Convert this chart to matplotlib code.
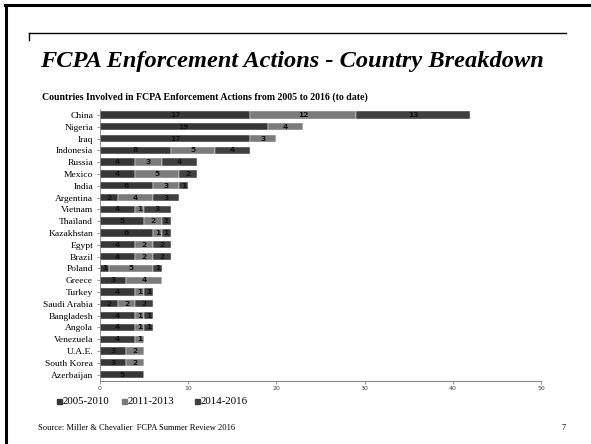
import matplotlib
matplotlib.use("Agg")
import matplotlib.pyplot as plt
import numpy as np
from matplotlib.lines import Line2D
from matplotlib.patches import Rectangle

countries = ["China", "Nigeria", "Iraq", "Indonesia", "Russia", "Mexico", "India",
             "Argentina", "Vietnam", "Thailand", "Kazakhstan", "Egypt", "Brazil",
             "Poland", "Greece", "Turkey", "Saudi Arabia", "Bangladesh", "Angola",
             "Venezuela", "U.A.E.", "South Korea", "Azerbaijan"]
s2005_2010 = [17, 19, 17, 8, 4, 4, 6, 2, 4, 5, 6, 4, 4, 1, 3, 4, 2, 4, 4, 4, 3, 3, 5]
s2011_2013 = [12, 4, 3, 5, 3, 5, 3, 4, 1, 2, 1, 2, 2, 5, 4, 1, 2, 1, 1, 1, 2, 2, 0]
s2014_2016 = [13, 0, 0, 4, 4, 2, 1, 3, 3, 1, 1, 2, 2, 1, 0, 1, 2, 1, 1, 0, 0, 0, 0]
series_names = ["2005-2010", "2011-2013", "2014-2016"]
colors = ["#373737", "#7b7b7b", "#404040"]
xticks = [0, 10, 20, 30, 40, 50]

SERIF = ["Liberation Serif", "DejaVu Serif"]

W, H = 591, 444
fig = plt.figure(figsize=(W / 100, H / 100), dpi=100)

# slide frame: top and left black lines
fig.add_artist(Line2D([5 / W, 1.0], [1 - 5 / H, 1 - 5 / H], color="black", lw=2.2))
fig.add_artist(Line2D([6 / W, 6 / W], [0, 1 - 5 / H], color="black", lw=2.2))
# line above the title
fig.add_artist(Line2D([29 / W, 566 / W], [1 - 33 / H, 1 - 33 / H], color="black", lw=1.0))
fig.add_artist(Line2D([29 / W, 29 / W], [1 - 33 / H, 1 - 40 / H], color="black", lw=1.0))

fig.text(40 / W, 1 - 62 / H, "FCPA Enforcement Actions - Country Breakdown",
         family=SERIF, fontsize=17.6, fontweight="bold", fontstyle="italic",
         va="center", ha="left")
fig.text(42 / W, 1 - 97 / H,
         "Countries Involved in FCPA Enforcement Actions from 2005 to 2016 (to date)",
         family=SERIF, fontsize=7.1, fontweight="bold", va="center", ha="left")

ax = fig.add_axes([100 / W, 1 - 380.5 / H, 441 / W, 271.5 / H])
y = np.arange(len(countries))
left = np.zeros(len(countries))
for vals, c, name in zip([s2005_2010, s2011_2013, s2014_2016], colors, series_names):
    vals = np.array(vals)
    ax.barh(y, vals, left=left, height=0.62, color=c, edgecolor="white",
            linewidth=0.3, label=name)
    for yi, l, v in zip(y, left, vals):
        if v > 0:
            ax.text(l + v / 2, yi, str(v), ha="center", va="center",
                    fontsize=5.4, fontweight="bold", color="#111111",
                    family="DejaVu Sans")
    left = left + vals

ax.set_xlim(0, 50)
ax.set_ylim(len(countries) - 0.5, -0.5)
ax.set_yticks(y)
ax.set_yticklabels(countries, family=SERIF, fontsize=6.8)
ax.set_xticks(xticks)
ax.set_xticklabels([str(t) for t in xticks], family="DejaVu Sans", fontsize=4.5,
                   color="#444444")
ax.tick_params(axis="y", length=2, width=0.6, color="#888888", pad=3)
ax.tick_params(axis="x", length=2, width=0.6, color="#888888", pad=2)
for side in ["top", "right"]:
    ax.spines[side].set_visible(False)
ax.spines["left"].set_color("#888888")
ax.spines["bottom"].set_color("#888888")
ax.spines["left"].set_linewidth(0.6)
ax.spines["bottom"].set_linewidth(0.8)

# legend
leg_x = [57, 122, 195]
for lx, c, name in zip(leg_x, colors, series_names):
    fig.add_artist(Rectangle((lx / W, 1 - 404 / H), 5 / W, 5 / H, color=c))
    fig.text((lx + 6) / W, 1 - 401.5 / H, name, family=SERIF, fontsize=7.8,
             va="center", ha="left")

fig.text(38 / W, 1 - 428 / H, "Source: Miller & Chevalier  FCPA Summer Review 2016",
         family=SERIF, fontsize=6.1, va="center", ha="left")
fig.text(561 / W, 1 - 428 / H, "7", family=SERIF, fontsize=6, va="center", ha="left")

fig.savefig("out.png", dpi=100)
